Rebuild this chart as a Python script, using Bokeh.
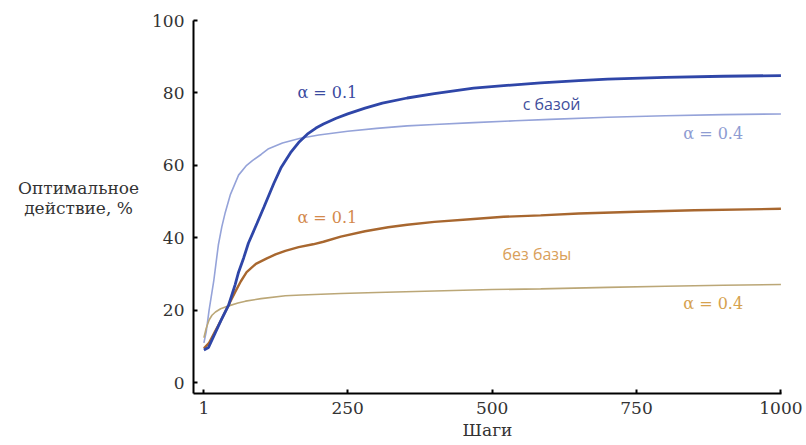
from bokeh.plotting import figure
from bokeh.models import Range1d, FixedTicker, Label
from bokeh.layouts import row
from bokeh.embed import file_html
from bokeh.resources import INLINE

# --- data ---
steps_base01 = [1, 9, 20, 30, 44, 55, 61, 70, 78, 93, 105, 122, 135, 151, 165, 180, 195,
                208, 230, 250, 280, 310, 353, 400, 468, 520, 584, 650, 700, 800, 900, 1000]
vals_base01 = [9, 9.7, 13.5, 17, 21.5, 27, 30.5, 34.5, 38.5, 44, 48.5, 55, 59.5, 63.5, 66.3, 68.6, 70.3,
               71.4, 73, 74.2, 75.8, 77.2, 78.6, 79.8, 81.3, 82.0, 82.8, 83.4, 83.8, 84.3, 84.6, 84.8]

steps_base04 = [1, 5, 10, 14, 18, 22, 26, 32, 38, 47, 61, 75, 85, 100, 113, 137, 168, 200, 250,
                300, 353, 400, 468, 540, 600, 700, 800, 900, 1000]
vals_base04 = [11, 14, 20, 24, 28, 33, 38, 43, 47, 52, 57.3, 60, 61.3, 63, 64.6, 66.2, 67.5, 68.4, 69.4,
               70.2, 70.9, 71.3, 71.8, 72.3, 72.7, 73.3, 73.7, 74.0, 74.2]

steps_nobase01 = [1, 10, 20, 30, 44, 55, 65, 75, 91, 110, 125, 142, 165, 190, 208, 238, 280, 320,
                  353, 400, 468, 520, 584, 650, 750, 850, 1000]
vals_nobase01 = [9.5, 11, 14, 17, 21.5, 25, 28, 30.5, 32.8, 34.3, 35.4, 36.4, 37.4, 38.2, 38.9, 40.3, 41.8, 42.9,
                 43.6, 44.4, 45.2, 45.8, 46.2, 46.7, 47.2, 47.6, 48]

steps_nobase04 = [1, 5, 10, 15, 21, 30, 44, 60, 73, 100, 142, 170, 238, 300, 400, 500, 584, 700,
                  800, 900, 1000]
vals_nobase04 = [12.4, 15, 17.3, 18.6, 19.5, 20.4, 21.2, 22, 22.5, 23.2, 24, 24.2, 24.6, 24.9, 25.3,
                 25.7, 25.9, 26.3, 26.6, 26.9, 27.1]

x_ticks = [1, 250, 500, 750, 1000]
y_ticks = [0, 20, 40, 60, 80, 100]
y_title_lines = ["Оптимальное", "действие, %"]

SERIF = "DejaVu Serif"
SANS = "Open Sans"
TXT = "#333333"
LEFT_W = 140

# ---- main chart ----
p = figure(width=806 - LEFT_W, height=445, output_backend="svg", toolbar_location=None,
           x_range=Range1d(-17, 1001), y_range=Range1d(-3, 100),
           min_border_left=193 - LEFT_W, min_border_right=25, min_border_top=20, min_border_bottom=52)
p.outline_line_color = None
p.xgrid.visible = False
p.ygrid.visible = False
p.background_fill_color = "white"
p.border_fill_color = "white"

# ---- left strip holding the horizontal y title (frame aligned with the main chart) ----
side = figure(width=LEFT_W, height=445, output_backend="svg", toolbar_location=None,
              x_range=Range1d(0, LEFT_W), y_range=p.y_range, min_border=0)
side.axis.visible = False
side.grid.visible = False
side.outline_line_color = None
for line_text, yv in zip(y_title_lines, (53.8, 48.3)):
    side.add_layout(Label(x=78, y=yv, text=line_text, text_align="center",
                          text_baseline="middle", text_font=SERIF, text_font_size="17px",
                          text_color=TXT))

p.line(steps_base04, vals_base04, line_color="#95a3d9", line_width=1.6)
p.line(steps_nobase04, vals_nobase04, line_color="#bba777", line_width=1.6)
p.line(steps_nobase01, vals_nobase01, line_color="#a8672f", line_width=2.4)
p.line(steps_base01, vals_base01, line_color="#2f46a8", line_width=2.8)

for ax, ticks in ((p.xaxis, x_ticks), (p.yaxis, y_ticks)):
    ax.ticker = FixedTicker(ticks=ticks)
    ax.axis_line_color = "black"
    ax.axis_line_width = 2
    ax.major_tick_line_color = "black"
    ax.major_tick_line_width = 2
    ax.major_tick_in = 4
    ax.major_tick_out = 0
    ax.minor_tick_line_color = None
    ax.major_label_text_font = SERIF
    ax.major_label_text_font_size = "17px"
    ax.major_label_text_color = TXT

p.xaxis.major_label_standoff = 8
p.yaxis.major_label_standoff = 9
p.xaxis.axis_label = "Шаги"
p.xaxis.axis_label_text_font = SERIF
p.xaxis.axis_label_text_font_style = "normal"
p.xaxis.axis_label_text_font_size = "17px"
p.xaxis.axis_label_text_color = TXT
p.xaxis.axis_label_standoff = 3

labels = [
    (163, 80, "α = 0.1", "#3a4aa0", SERIF),
    (553, 77, "с базой", "#3f4f9c", SANS),
    (831, 68.7, "α = 0.4", "#8e9cd2", SERIF),
    (163, 45.5, "α = 0.1", "#d3894c", SERIF),
    (518, 35.6, "без базы", "#d9a05a", SANS),
    (831, 21.8, "α = 0.4", "#d6a24e", SERIF),
]
for x, y, t, c, f in labels:
    p.add_layout(Label(x=x, y=y, text=t, text_color=c, text_font=f, text_font_size="16px",
                       text_align="left", text_baseline="middle"))

layout = row(side, p)
open("out.html", "w").write(file_html(layout, INLINE))
